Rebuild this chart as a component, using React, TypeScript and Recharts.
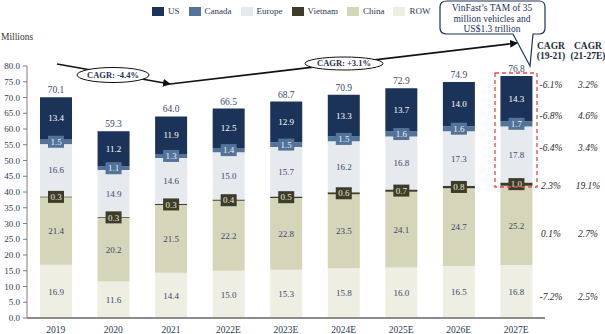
import { BarChart, Bar, XAxis, YAxis, LabelList } from 'recharts';

const YEARS = ['2019', '2020', '2021', '2022E', '2023E', '2024E', '2025E', '2026E', '2027E'];
const ROW = [16.9, 11.6, 14.4, 15.0, 15.3, 15.8, 16.0, 16.5, 16.8];
const CHINA = [21.4, 20.2, 21.5, 22.2, 22.8, 23.5, 24.1, 24.7, 25.2];
const VIETNAM = [0.3, 0.3, 0.3, 0.4, 0.5, 0.6, 0.7, 0.8, 1.0];
const EUROPE = [16.6, 14.9, 14.6, 15.0, 15.7, 16.2, 16.8, 17.3, 17.8];
const CANADA = [1.5, 1.1, 1.3, 1.4, 1.5, 1.5, 1.6, 1.6, 1.7];
const US = [13.4, 11.2, 11.9, 12.5, 12.9, 13.3, 13.7, 14.0, 14.3];
const TOTALS = [70.1, 59.3, 64.0, 66.5, 68.7, 70.9, 72.9, 74.9, 76.8];
const Y_TICKS = [0, 5, 10, 15, 20, 25, 30, 35, 40, 45, 50, 55, 60, 65, 70, 75, 80];

// CAGR columns, top to bottom: US, Canada, Europe, Vietnam, China, ROW
const CAGR_19_21 = ['-6.1%', '-6.8%', '-6.4%', '2.3%', '0.1%', '-7.2%'];
const CAGR_21_27 = ['3.2%', '4.6%', '3.4%', '19.1%', '2.7%', '2.5%'];
const CAGR_ROW_Y = [85, 116, 148, 186, 234, 297];

const FONT = '"Liberation Serif", "Times New Roman", serif';
const TEXT = '#3b4a66';

const SERIES = [
  { key: 'row', name: 'ROW', color: '#eeeee2', text: TEXT, boxed: false },
  { key: 'china', name: 'China', color: '#d5d5b9', text: TEXT, boxed: false },
  { key: 'vietnam', name: 'Vietnam', color: '#3d3c28', text: '#e9e9dc', boxed: true },
  { key: 'europe', name: 'Europe', color: '#e6e9ee', text: TEXT, boxed: false },
  { key: 'canada', name: 'Canada', color: '#52739a', text: '#eef2f7', boxed: true },
  { key: 'us', name: 'US', color: '#1c3359', text: '#ffffff', boxed: false },
];
const LEGEND_ORDER = ['us', 'canada', 'europe', 'vietnam', 'china', 'row'];

const data = YEARS.map((year, i) => ({
  year,
  row: ROW[i],
  china: CHINA[i],
  vietnam: VIETNAM[i],
  europe: EUROPE[i],
  canada: CANADA[i],
  us: US[i],
  total: TOTALS[i],
}));

const boxedLabel = (fill: string, textFill: string) => (props: any) => {
  const { x, y, width, height, value } = props;
  const cx = Number(x) + Number(width) / 2;
  const cy = Number(y) + Number(height) / 2;
  return (
    <g>
      <rect x={cx - 8} y={cy - 6} width={16} height={12} fill={fill} />
      <text x={cx} y={cy} dy="0.35em" textAnchor="middle" fontSize={9} fill={textFill} fontFamily={FONT}>
        {Number(value).toFixed(1)}
      </text>
    </g>
  );
};

export default function App() {
  return (
    <div style={{ position: 'absolute', left: 0, top: 0, width: 605, height: 334, background: '#fff', fontFamily: FONT }}>
      {/* legend */}
      <div style={{ position: 'absolute', top: 6, left: 152, display: 'flex', gap: 9, fontSize: 9, color: '#2b3a55' }}>
        {LEGEND_ORDER.map(k => {
          const s = SERIES.find(d => d.key === k)!;
          return (
            <div key={k} style={{ display: 'flex', alignItems: 'center', gap: 4 }}>
              <span style={{ width: 12, height: 9, background: s.color, display: 'inline-block' }} />
              <span>{s.name}</span>
            </div>
          );
        })}
      </div>
      <div style={{ position: 'absolute', top: 32, left: 1, fontSize: 9.5, color: '#333' }}>Millions</div>

      <BarChart
        width={605}
        height={334}
        data={data}
        margin={{ top: 66, right: 60, left: 0, bottom: 0 }}
        style={{ position: 'absolute', left: 0, top: 0 }}
      >
        <YAxis
          domain={[0, 80]}
          ticks={Y_TICKS}
          width={27}
          tickSize={4}
          tickMargin={3}
          tickFormatter={v => Number(v).toFixed(1)}
          tick={{ fontSize: 9, fill: '#2b3a55', fontFamily: FONT }}
          axisLine={{ stroke: '#7f7f7f' }}
          tickLine={{ stroke: '#7f7f7f' }}
        />
        <XAxis
          dataKey="year"
          height={16}
          tickLine={false}
          tickMargin={2}
          tick={{ fontSize: 9.5, fill: '#2b3a55', fontFamily: FONT }}
          axisLine={{ stroke: '#8c8c8c', strokeWidth: 2 }}
        />
        {SERIES.map(s => (
          <Bar key={s.key} dataKey={s.key} name={s.name} stackId="a" fill={s.color} barSize={32} isAnimationActive={false}>
            {s.boxed ? (
              <LabelList dataKey={s.key} content={boxedLabel(s.color, s.text)} />
            ) : (
              <LabelList
                dataKey={s.key}
                position="center"
                formatter={(v: any) => Number(v).toFixed(1)}
                style={{ fontSize: 9, fill: s.text, fontFamily: FONT }}
              />
            )}
            {s.key === 'us' && (
              <LabelList
                dataKey="total"
                position="top"
                offset={4}
                formatter={(v: any) => Number(v).toFixed(1)}
                style={{ fontSize: 9.5, fill: TEXT, fontFamily: FONT }}
              />
            )}
          </Bar>
        ))}
      </BarChart>

      {/* annotations */}
      <svg width={605} height={334} style={{ position: 'absolute', left: 0, top: 0, pointerEvents: 'none' }}>
        <defs>
          <marker id="arr" markerWidth="8" markerHeight="8" refX="7" refY="4" orient="auto" markerUnits="userSpaceOnUse">
            <path d="M0,0 L8,4 L0,8 z" fill="#111" />
          </marker>
        </defs>
        <line x1={57} y1={64} x2={170} y2={84} stroke="#111" strokeWidth={1.6} markerEnd="url(#arr)" />
        <line x1={170} y1={84} x2={517} y2={43} stroke="#111" strokeWidth={1.6} markerEnd="url(#arr)" />
        <ellipse cx={113} cy={75} rx={36} ry={7.5} fill="#fff" stroke="#111" strokeWidth={1} />
        <text x={113} y={75} dy="0.35em" textAnchor="middle" fontSize={8.5} fontWeight="bold" fill="#1c3359" fontFamily={FONT}>
          CAGR:  -4.4%
        </text>
        <ellipse cx={344} cy={63.5} rx={39} ry={6.5} fill="#fff" stroke="#111" strokeWidth={1} />
        <text x={344} y={63.5} dy="0.35em" textAnchor="middle" fontSize={8.5} fontWeight="bold" fill="#1c3359" fontFamily={FONT}>
          CAGR:  +3.1%
        </text>

        {/* callout */}
        <path
          d="M447,1 L539,1 Q545,1 545,7 L545,28 Q545,34 539,34 L533,34 L530,66 L513,34 L447,34 Q440,34 440,28 L440,7 Q440,1 447,1 Z"
          fill="#fff"
          stroke="#1c3359"
          strokeWidth={1.2}
        />
        <text textAnchor="middle" fontSize={9.5} fill="#1c3359" fontFamily={FONT}>
          <tspan x={492} y={11}>VinFast’s TAM of 35</tspan>
          <tspan x={492} y={22}>million vehicles and</tspan>
          <tspan x={492} y={32}>US$1.3 trillion</tspan>
        </text>

        <rect x={495} y={73} width={42} height={114} fill="none" stroke="#e8474c" strokeWidth={1.3} strokeDasharray="4 3" />

        {/* CAGR columns */}
        <text textAnchor="middle" fontSize={9.5} fontWeight="bold" fill="#1c2a40" fontFamily={FONT}>
          <tspan x={551} y={49}>CAGR</tspan>
          <tspan x={551} y={59}>(19-21)</tspan>
          <tspan x={588} y={49}>CAGR</tspan>
          <tspan x={588} y={59}>(21-27E)</tspan>
        </text>
        {CAGR_ROW_Y.map((y, i) => (
          <g key={i} fontSize={9.5} fontStyle="italic" fill="#2b2b2b" fontFamily={FONT}>
            <text x={551} y={y} dy="0.35em" textAnchor="middle">{CAGR_19_21[i]}</text>
            <text x={588} y={y} dy="0.35em" textAnchor="middle">{CAGR_21_27[i]}</text>
          </g>
        ))}
      </svg>
    </div>
  );
}
